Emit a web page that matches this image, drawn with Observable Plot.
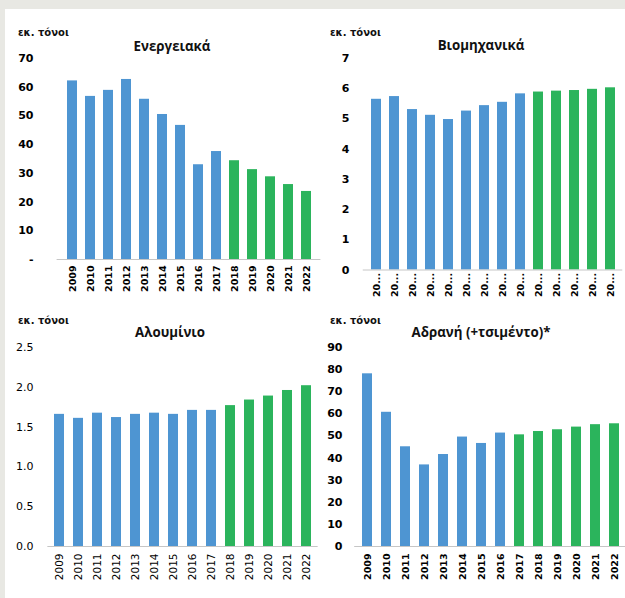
<!DOCTYPE html>
<html><head><meta charset="utf-8">
<script src="https://cdn.jsdelivr.net/npm/d3@7"></script>
<script src="https://cdn.jsdelivr.net/npm/@observablehq/plot@0.6"></script>
<style>
body{margin:0;background:#fff;}
#page{position:relative;width:625px;height:598px;background:#e8e8e3;overflow:hidden;font-family:"DejaVu Sans",sans-serif;}
#sheet{position:absolute;left:5px;top:9px;right:0;bottom:0;background:#fff;}
.unit{position:absolute;font-family:"DejaVu Sans",sans-serif;font-weight:bold;font-size:10px;line-height:10px;color:#111;white-space:nowrap;}
.title{position:absolute;font-family:"Open Sans",sans-serif;font-weight:bold;font-size:13.3px;line-height:16px;color:#111;transform:translateX(-50%);white-space:nowrap;}
.panel{position:absolute;}
</style></head><body>
<div id="page"><div id="sheet"></div></div>
<script>
const years = [2009,2010,2011,2012,2013,2014,2015,2016,2017,2018,2019,2020,2021,2022];
const energy = [62.2,56.8,58.9,62.7,55.8,50.5,46.7,33.0,37.6,34.4,31.3,28.8,26.1,23.7];
const industrial = [5.65,5.74,5.31,5.12,4.98,5.26,5.44,5.55,5.83,5.89,5.92,5.94,5.98,6.03];
const aluminium = [1.66,1.61,1.675,1.62,1.66,1.675,1.66,1.71,1.71,1.77,1.84,1.89,1.96,2.02];
const aggregates = [78.1,60.7,45.1,36.9,41.6,49.5,46.6,51.3,50.5,52.0,52.8,54.0,55.1,55.5];
const titles = ["Ενεργειακά","Βιομηχανικά","Αλουμίνιο","Αδρανή (+τσιμέντο)*"];
const unitLabel = "εκ. τόνοι";
const greenFrom = [2018,2018,2018,2017];
const yTicks1 = [0,10,20,30,40,50,60,70];
const yTicks2 = [0,1,2,3,4,5,6,7];
const yTicks3 = [0,0.5,1,1.5,2,2.5];
const yTicks4 = [0,10,20,30,40,50,60,70,80,90];

const BLUE = "#4e95d2", GREEN = "#2bb45c";
const page = document.getElementById("page");

function addText(cls, txt, left, top){
  const d = document.createElement("div");
  d.className = cls; d.textContent = txt;
  d.style.left = left + "px"; d.style.top = top + "px";
  page.appendChild(d);
}

function drawPanel(o){
  const data = years.map((y,i)=>({year:y, value:o.values[i], color: y>=o.greenFrom?GREEN:BLUE}));
  const marginLeft = o.xRange[0]-o.left, marginRight = o.left+o.width-o.xRange[1];
  const marginTop = o.yTop-o.top, marginBottom = o.top+o.height-o.yBase;
  const fw = o.bold ? "bold" : "normal";
  const chart = Plot.plot({
    width:o.width, height:o.height, marginLeft, marginRight, marginTop, marginBottom,
    style:{fontFamily:"DejaVu Sans", fontWeight:fw, color:"#000", background:"transparent", overflow:"visible"},
    x:{type:"band", domain:years, paddingInner:0.45, paddingOuter:0.225},
    y:{domain:o.yDomain},
    color:{type:"identity"},
    marks:[
      Plot.barY(data,{x:"year", y:"value", fill:"color"}),
      Plot.ruleY([0],{stroke:"#c6c6c6"}),
      Plot.axisY({ticks:o.yTicks, tickFormat:o.yFmt, tickSize:0, tickPadding:o.xRange[0]-o.yLabelRight, label:null, fontSize:11}),
      Plot.axisX({tickRotate:-90, tickSize:0, tickPadding:o.xGap, tickFormat:o.xFmt, label:null, fontSize:o.xFont})
    ]
  });
  chart.classList.add("panel");
  chart.style.left = o.left+"px"; chart.style.top = o.top+"px";
  page.appendChild(chart);
}

drawPanel({left:0, top:50, width:322, height:250, xRange:[56.6,320.4], yTop:58, yBase:259, yDomain:[0,70], yTicks:yTicks1, yFmt:d=>d===0?"-":String(d), yLabelRight:33, xGap:6, xFmt:d=>String(d), xFont:9.5, bold:true, values:energy, greenFrom:greenFrom[0]});
drawPanel({left:310, top:50, width:315, height:250, xRange:[362.75,622.25], yTop:58, yBase:269.5, yDomain:[0,7], yTicks:yTicks2, yFmt:d=>String(d), yLabelRight:349, xGap:3, xFmt:d=>String(d).slice(0,2)+"...", xFont:9.5, bold:true, values:industrial, greenFrom:greenFrom[1]});
drawPanel({left:0, top:337, width:322, height:260, xRange:[47.35,317.65], yTop:347, yBase:546, yDomain:[0,2.5], yTicks:yTicks3, yFmt:d=>d.toFixed(1), yLabelRight:33, xGap:7, xFmt:d=>String(d), xFont:10.5, bold:false, values:aluminium, greenFrom:greenFrom[2]});
drawPanel({left:310, top:337, width:320, height:260, xRange:[354.2,627.8], yTop:347, yBase:546, yDomain:[0,90], yTicks:yTicks4, yFmt:d=>String(d), yLabelRight:342, xGap:7, xFmt:d=>String(d), xFont:9.5, bold:true, values:aggregates, greenFrom:greenFrom[3]});

addText("unit", unitLabel, 18, 28);
addText("unit", unitLabel, 330, 28);
addText("unit", unitLabel, 18, 316);
addText("unit", unitLabel, 330, 316);
addText("title", titles[0], 172, 38);
addText("title", titles[1], 481, 37);
addText("title", titles[2], 170, 324);
addText("title", titles[3], 481, 324);
</script>
</body></html>
